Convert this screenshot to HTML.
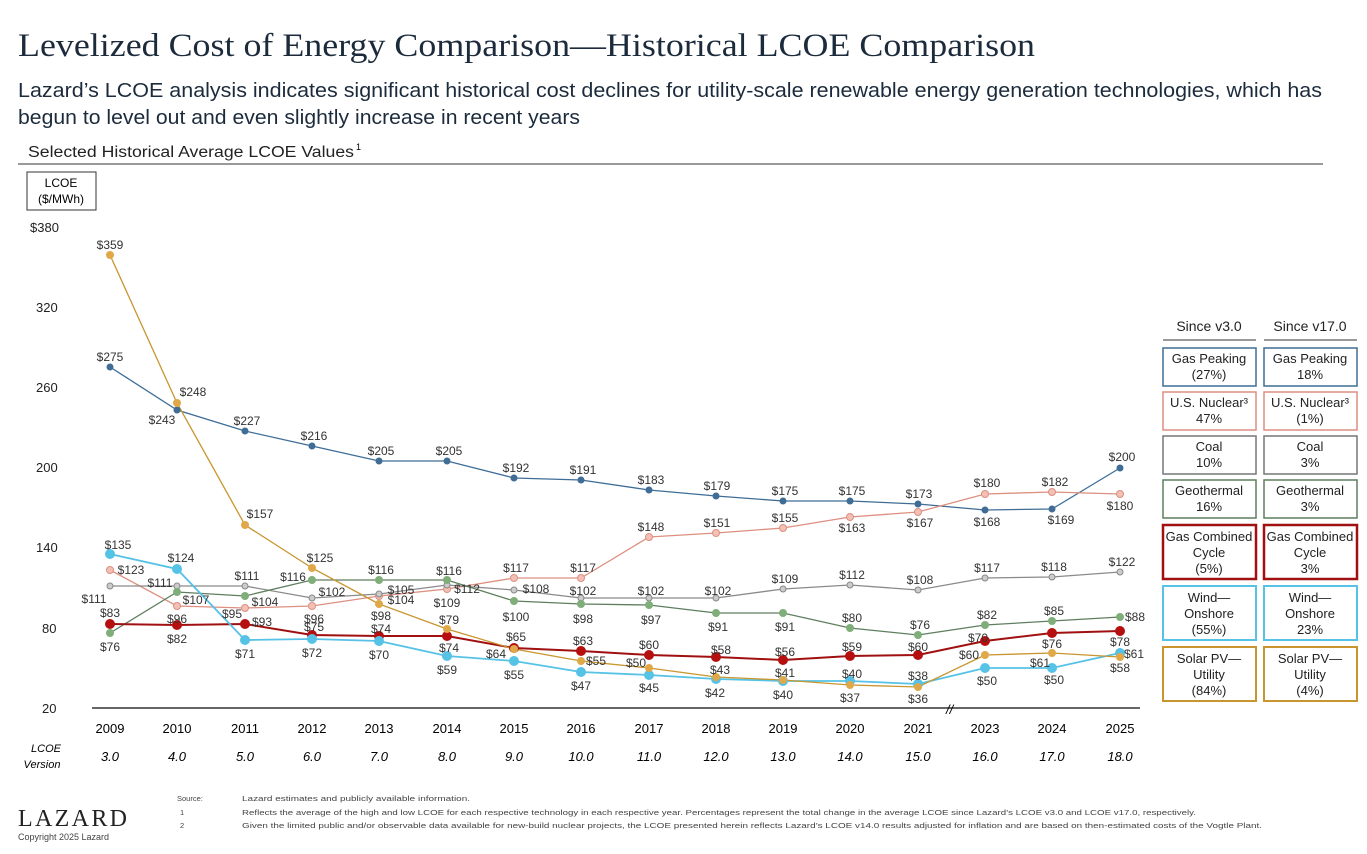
<!DOCTYPE html>
<html><head><meta charset="utf-8"><style>
body{margin:0;width:1367px;height:854px;background:#fff;font-family:"Liberation Sans",sans-serif;overflow:hidden;position:relative;color:#222}
</style></head><body>
<svg width="1367" height="854" style="position:absolute;left:0;top:0" font-family="Liberation Sans, sans-serif">
<text x="18" y="56" font-family="Liberation Serif, serif" font-size="33" fill="#1c2b3c" textLength="1017" lengthAdjust="spacingAndGlyphs">Levelized Cost of Energy Comparison—Historical LCOE Comparison</text>
<text x="18" y="97" font-size="20" fill="#1c2b3c" textLength="1304" lengthAdjust="spacingAndGlyphs">Lazard’s LCOE analysis indicates significant historical cost declines for utility-scale renewable energy generation technologies, which has</text>
<text x="18" y="124" font-size="20" fill="#1c2b3c" textLength="562" lengthAdjust="spacingAndGlyphs">begun to level out and even slightly increase in recent years</text>
<text x="28" y="157" font-size="15.5" fill="#222" textLength="326" lengthAdjust="spacingAndGlyphs">Selected Historical Average LCOE Values</text>
<text x="356" y="150" font-size="9">1</text>
<line x1="18" y1="164" x2="1323" y2="164" stroke="#333" stroke-width="1"/>
<rect x="27" y="172" width="69" height="38" fill="none" stroke="#333"/>
<text x="61" y="187" font-size="12" text-anchor="middle">LCOE</text>
<text x="61" y="203" font-size="12" text-anchor="middle">($/MWh)</text>
<g font-size="13" fill="#222">
<text x="30" y="232">$380</text><text x="36" y="312">320</text><text x="36" y="392">260</text><text x="36" y="472">200</text><text x="36" y="552">140</text><text x="42" y="633">80</text><text x="42" y="713">20</text>
</g>
<line x1="92" y1="708" x2="1140" y2="708" stroke="#333" stroke-width="1.5"/>
<text x="946" y="714" font-size="13" font-style="italic">//</text>
<g font-size="13" text-anchor="middle">
<text x="110" y="733">2009</text><text x="177" y="733">2010</text><text x="245" y="733">2011</text><text x="312" y="733">2012</text><text x="379" y="733">2013</text><text x="447" y="733">2014</text><text x="514" y="733">2015</text><text x="581" y="733">2016</text><text x="649" y="733">2017</text><text x="716" y="733">2018</text><text x="783" y="733">2019</text><text x="850" y="733">2020</text><text x="918" y="733">2021</text><text x="985" y="733">2023</text><text x="1052" y="733">2024</text><text x="1120" y="733">2025</text>
</g>
<g font-size="13" font-style="italic" text-anchor="middle">
<text x="110" y="761">3.0</text><text x="177" y="761">4.0</text><text x="245" y="761">5.0</text><text x="312" y="761">6.0</text><text x="379" y="761">7.0</text><text x="447" y="761">8.0</text><text x="514" y="761">9.0</text><text x="581" y="761">10.0</text><text x="649" y="761">11.0</text><text x="716" y="761">12.0</text><text x="783" y="761">13.0</text><text x="850" y="761">14.0</text><text x="918" y="761">15.0</text><text x="985" y="761">16.0</text><text x="1052" y="761">17.0</text><text x="1120" y="761">18.0</text>
<text x="46" y="752" font-size="11">LCOE</text><text x="42" y="768" font-size="11">Version</text>
</g>
<g fill="none" stroke-width="1.3">
<polyline stroke="#3f6d96" points="110,367 177,410 245,431 312,446 379,461 447,461 514,478 581,480 649,490 716,496 783,501 850,501 918,504 985,510 1052,509 1120,468"/>
<polyline stroke="#dd8f80" points="110,570 177,606 245,608 312,606 379,596 447,589 514,578 581,578 649,537 716,533 783,528 850,517 918,512 985,494 1052,492 1120,494"/>
<polyline stroke="#8a8a8a" points="110,586 177,586 245,586 312,598 379,594 447,585 514,590 581,598 649,598 716,598 783,589 850,585 918,590 985,578 1052,577 1120,572"/>
<polyline stroke="#5e7e5e" points="110,633 177,592 245,596 312,580 379,580 447,580 514,601 581,604 649,605 716,613 783,613 850,628 918,635 985,625 1052,621 1120,617"/>
<polyline stroke="#a01010" stroke-width="2" points="110,624 177,625 245,624 312,635 379,636 447,636 514,648 581,651 649,655 716,657 783,660 850,656 918,655 985,641 1052,633 1120,631"/>
<polyline stroke="#55c2e6" stroke-width="1.8" points="110,554 177,569 245,640 312,639 379,641 447,656 514,661 581,672 649,675 716,679 783,681 850,681 918,684 985,668 1052,668 1120,653"/>
<polyline stroke="#c9952e" points="110,255 177,403 245,525 312,568 379,604 447,629 514,649 581,661 649,668 716,677 783,680 850,685 918,687 985,655 1052,653 1120,657"/>
</g>
<g fill="#3f6d96"><circle cx="110" cy="367" r="3.5"/><circle cx="177" cy="410" r="3.5"/><circle cx="245" cy="431" r="3.5"/><circle cx="312" cy="446" r="3.5"/><circle cx="379" cy="461" r="3.5"/><circle cx="447" cy="461" r="3.5"/><circle cx="514" cy="478" r="3.5"/><circle cx="581" cy="480" r="3.5"/><circle cx="649" cy="490" r="3.5"/><circle cx="716" cy="496" r="3.5"/><circle cx="783" cy="501" r="3.5"/><circle cx="850" cy="501" r="3.5"/><circle cx="918" cy="504" r="3.5"/><circle cx="985" cy="510" r="3.5"/><circle cx="1052" cy="509" r="3.5"/><circle cx="1120" cy="468" r="3.5"/></g>
<g fill="#f3c0b5" stroke="#dd8f80"><circle cx="110" cy="570" r="3.5"/><circle cx="177" cy="606" r="3.5"/><circle cx="245" cy="608" r="3.5"/><circle cx="312" cy="606" r="3.5"/><circle cx="379" cy="596" r="3.5"/><circle cx="447" cy="589" r="3.5"/><circle cx="514" cy="578" r="3.5"/><circle cx="581" cy="578" r="3.5"/><circle cx="649" cy="537" r="3.5"/><circle cx="716" cy="533" r="3.5"/><circle cx="783" cy="528" r="3.5"/><circle cx="850" cy="517" r="3.5"/><circle cx="918" cy="512" r="3.5"/><circle cx="985" cy="494" r="3.5"/><circle cx="1052" cy="492" r="3.5"/><circle cx="1120" cy="494" r="3.5"/></g>
<g fill="#ccc" stroke="#888"><circle cx="110" cy="586" r="3"/><circle cx="177" cy="586" r="3"/><circle cx="245" cy="586" r="3"/><circle cx="312" cy="598" r="3"/><circle cx="379" cy="594" r="3"/><circle cx="447" cy="585" r="3"/><circle cx="514" cy="590" r="3"/><circle cx="581" cy="598" r="3"/><circle cx="649" cy="598" r="3"/><circle cx="716" cy="598" r="3"/><circle cx="783" cy="589" r="3"/><circle cx="850" cy="585" r="3"/><circle cx="918" cy="590" r="3"/><circle cx="985" cy="578" r="3"/><circle cx="1052" cy="577" r="3"/><circle cx="1120" cy="572" r="3"/></g>
<g fill="#7fae7a"><circle cx="110" cy="633" r="4"/><circle cx="177" cy="592" r="4"/><circle cx="245" cy="596" r="4"/><circle cx="312" cy="580" r="4"/><circle cx="379" cy="580" r="4"/><circle cx="447" cy="580" r="4"/><circle cx="514" cy="601" r="4"/><circle cx="581" cy="604" r="4"/><circle cx="649" cy="605" r="4"/><circle cx="716" cy="613" r="4"/><circle cx="783" cy="613" r="4"/><circle cx="850" cy="628" r="4"/><circle cx="918" cy="635" r="4"/><circle cx="985" cy="625" r="4"/><circle cx="1052" cy="621" r="4"/><circle cx="1120" cy="617" r="4"/></g>
<g fill="#b50f0f"><circle cx="110" cy="624" r="5"/><circle cx="177" cy="625" r="5"/><circle cx="245" cy="624" r="5"/><circle cx="312" cy="635" r="5"/><circle cx="379" cy="636" r="5"/><circle cx="447" cy="636" r="5"/><circle cx="514" cy="648" r="5"/><circle cx="581" cy="651" r="5"/><circle cx="649" cy="655" r="5"/><circle cx="716" cy="657" r="5"/><circle cx="783" cy="660" r="5"/><circle cx="850" cy="656" r="5"/><circle cx="918" cy="655" r="5"/><circle cx="985" cy="641" r="5"/><circle cx="1052" cy="633" r="5"/><circle cx="1120" cy="631" r="5"/></g>
<g fill="#55c2e6"><circle cx="110" cy="554" r="5"/><circle cx="177" cy="569" r="5"/><circle cx="245" cy="640" r="5"/><circle cx="312" cy="639" r="5"/><circle cx="379" cy="641" r="5"/><circle cx="447" cy="656" r="5"/><circle cx="514" cy="661" r="5"/><circle cx="581" cy="672" r="5"/><circle cx="649" cy="675" r="5"/><circle cx="716" cy="679" r="5"/><circle cx="783" cy="681" r="5"/><circle cx="850" cy="681" r="5"/><circle cx="918" cy="684" r="5"/><circle cx="985" cy="668" r="5"/><circle cx="1052" cy="668" r="5"/><circle cx="1120" cy="653" r="5"/></g>
<g fill="#e0a848"><circle cx="110" cy="255" r="4"/><circle cx="177" cy="403" r="4"/><circle cx="245" cy="525" r="4"/><circle cx="312" cy="568" r="4"/><circle cx="379" cy="604" r="4"/><circle cx="447" cy="629" r="4"/><circle cx="514" cy="649" r="4"/><circle cx="581" cy="661" r="4"/><circle cx="649" cy="668" r="4"/><circle cx="716" cy="677" r="4"/><circle cx="783" cy="680" r="4"/><circle cx="850" cy="685" r="4"/><circle cx="918" cy="687" r="4"/><circle cx="985" cy="655" r="4"/><circle cx="1052" cy="653" r="4"/><circle cx="1120" cy="657" r="4"/></g>
<g font-size="12" fill="#333" text-anchor="middle">
<text x="110" y="361">$275</text><text x="162" y="424">$243</text><text x="247" y="425">$227</text><text x="314" y="440">$216</text><text x="381" y="455">$205</text><text x="449" y="455">$205</text><text x="516" y="472">$192</text><text x="583" y="474">$191</text><text x="651" y="484">$183</text><text x="717" y="490">$179</text><text x="785" y="495">$175</text><text x="852" y="495">$175</text><text x="919" y="498">$173</text><text x="987" y="526">$168</text><text x="1061" y="524">$169</text><text x="1122" y="461">$200</text>
<text x="131" y="574">$123</text><text x="177" y="623">$96</text><text x="232" y="618">$95</text><text x="314" y="623">$96</text><text x="401" y="604">$104</text><text x="447" y="607">$109</text><text x="516" y="572">$117</text><text x="583" y="572">$117</text><text x="651" y="531">$148</text><text x="717" y="527">$151</text><text x="785" y="522">$155</text><text x="852" y="532">$163</text><text x="920" y="527">$167</text><text x="987" y="487">$180</text><text x="1055" y="486">$182</text><text x="1120" y="510">$180</text>
<text x="94" y="603">$111</text><text x="160" y="587">$111</text><text x="247" y="580">$111</text><text x="332" y="596">$102</text><text x="401" y="594">$105</text><text x="467" y="593">$112</text><text x="536" y="593">$108</text><text x="583" y="595">$102</text><text x="651" y="595">$102</text><text x="718" y="595">$102</text><text x="785" y="583">$109</text><text x="852" y="579">$112</text><text x="920" y="584">$108</text><text x="987" y="572">$117</text><text x="1054" y="571">$118</text><text x="1122" y="566">$122</text>
<text x="110" y="651">$76</text><text x="196" y="604">$107</text><text x="265" y="606">$104</text><text x="293" y="581">$116</text><text x="381" y="574">$116</text><text x="449" y="575">$116</text><text x="516" y="621">$100</text><text x="583" y="623">$98</text><text x="651" y="624">$97</text><text x="718" y="631">$91</text><text x="785" y="631">$91</text><text x="852" y="622">$80</text><text x="920" y="629">$76</text><text x="987" y="619">$82</text><text x="1054" y="615">$85</text><text x="1135" y="621">$88</text>
<text x="110" y="617">$83</text><text x="177" y="643">$82</text><text x="262" y="626">$93</text><text x="314" y="631">$75</text><text x="381" y="633">$74</text><text x="449" y="652">$74</text><text x="516" y="641">$65</text><text x="583" y="645">$63</text><text x="649" y="649">$60</text><text x="721" y="654">$58</text><text x="785" y="656">$56</text><text x="852" y="651">$59</text><text x="918" y="651">$60</text><text x="978" y="642">$70</text><text x="1052" y="648">$76</text><text x="1120" y="646">$78</text>
<text x="118" y="549">$135</text><text x="181" y="562">$124</text><text x="245" y="658">$71</text><text x="312" y="657">$72</text><text x="379" y="659">$70</text><text x="447" y="674">$59</text><text x="514" y="679">$55</text><text x="581" y="690">$47</text><text x="649" y="692">$45</text><text x="715" y="697">$42</text><text x="783" y="699">$40</text><text x="850" y="702">$37</text><text x="918" y="703">$36</text><text x="987" y="685">$50</text><text x="1054" y="684">$50</text><text x="1134" y="658">$61</text>
<text x="110" y="249">$359</text><text x="193" y="396">$248</text><text x="260" y="518">$157</text><text x="320" y="562">$125</text><text x="381" y="620">$98</text><text x="449" y="624">$79</text><text x="496" y="658">$64</text><text x="596" y="665">$55</text><text x="636" y="667">$50</text><text x="720" y="674">$43</text><text x="785" y="677">$41</text><text x="852" y="678">$40</text><text x="918" y="680">$38</text><text x="969" y="659">$60</text><text x="1040" y="667">$61</text><text x="1120" y="672">$58</text>
</g>
<g font-size="13" text-anchor="middle" fill="#222">
<text x="1209" y="331" font-size="14">Since v3.0</text><text x="1310" y="331" font-size="14">Since v17.0</text>
<line x1="1163" y1="340" x2="1256" y2="340" stroke="#333"/><line x1="1264" y1="340" x2="1357" y2="340" stroke="#333"/>
<g fill="none" stroke-width="1.5">
<rect x="1163" y="348" width="93" height="38" stroke="#3f6d96"/><rect x="1264" y="348" width="93" height="38" stroke="#3f6d96"/>
<rect x="1163" y="392" width="93" height="38" stroke="#dd8f80"/><rect x="1264" y="392" width="93" height="38" stroke="#dd8f80"/>
<rect x="1163" y="436" width="93" height="38" stroke="#777"/><rect x="1264" y="436" width="93" height="38" stroke="#777"/>
<rect x="1163" y="480" width="93" height="38" stroke="#5e7e5e"/><rect x="1264" y="480" width="93" height="38" stroke="#5e7e5e"/>
<rect x="1163" y="525" width="93" height="54" stroke="#a01010" stroke-width="2.5"/><rect x="1264" y="525" width="93" height="54" stroke="#a01010" stroke-width="2.5"/>
<rect x="1163" y="586" width="93" height="54" stroke="#55c2e6" stroke-width="2"/><rect x="1264" y="586" width="93" height="54" stroke="#55c2e6" stroke-width="2"/>
<rect x="1163" y="647" width="93" height="54" stroke="#c9952e" stroke-width="2"/><rect x="1264" y="647" width="93" height="54" stroke="#c9952e" stroke-width="2"/>
</g>
<text x="1209" y="363">Gas Peaking</text><text x="1209" y="379">(27%)</text><text x="1310" y="363">Gas Peaking</text><text x="1310" y="379">18%</text>
<text x="1209" y="407">U.S. Nuclear³</text><text x="1209" y="423">47%</text><text x="1310" y="407">U.S. Nuclear³</text><text x="1310" y="423">(1%)</text>
<text x="1209" y="451">Coal</text><text x="1209" y="467">10%</text><text x="1310" y="451">Coal</text><text x="1310" y="467">3%</text>
<text x="1209" y="495">Geothermal</text><text x="1209" y="511">16%</text><text x="1310" y="495">Geothermal</text><text x="1310" y="511">3%</text>
<text x="1209" y="541">Gas Combined</text><text x="1209" y="557">Cycle</text><text x="1209" y="573">(5%)</text><text x="1310" y="541">Gas Combined</text><text x="1310" y="557">Cycle</text><text x="1310" y="573">3%</text>
<text x="1209" y="602">Wind—</text><text x="1209" y="618">Onshore</text><text x="1209" y="634">(55%)</text><text x="1310" y="602">Wind—</text><text x="1310" y="618">Onshore</text><text x="1310" y="634">23%</text>
<text x="1209" y="663">Solar PV—</text><text x="1209" y="679">Utility</text><text x="1209" y="695">(84%)</text><text x="1310" y="663">Solar PV—</text><text x="1310" y="679">Utility</text><text x="1310" y="695">(4%)</text>
</g>
<text x="18" y="826" font-family="Liberation Serif, serif" font-size="24" fill="#222" textLength="109" lengthAdjust="spacing">LAZARD</text>
<text x="18" y="840" font-size="9" fill="#444">Copyright 2025 Lazard</text>
<g font-size="7.5" fill="#444">
<text x="177" y="801">Source:</text><text x="242" y="801" textLength="228" lengthAdjust="spacingAndGlyphs">Lazard estimates and publicly available information.</text>
<text x="180" y="815">1</text><text x="242" y="815" textLength="954" lengthAdjust="spacingAndGlyphs">Reflects the average of the high and low LCOE for each respective technology in each respective year. Percentages represent the total change in the average LCOE since Lazard’s LCOE v3.0 and LCOE v17.0, respectively.</text>
<text x="180" y="828">2</text><text x="242" y="828" textLength="1020" lengthAdjust="spacingAndGlyphs">Given the limited public and/or observable data available for new-build nuclear projects, the LCOE presented herein reflects Lazard’s LCOE v14.0 results adjusted for inflation and are based on then-estimated costs of the Vogtle Plant.</text>
</g>
</svg>
</body></html>
